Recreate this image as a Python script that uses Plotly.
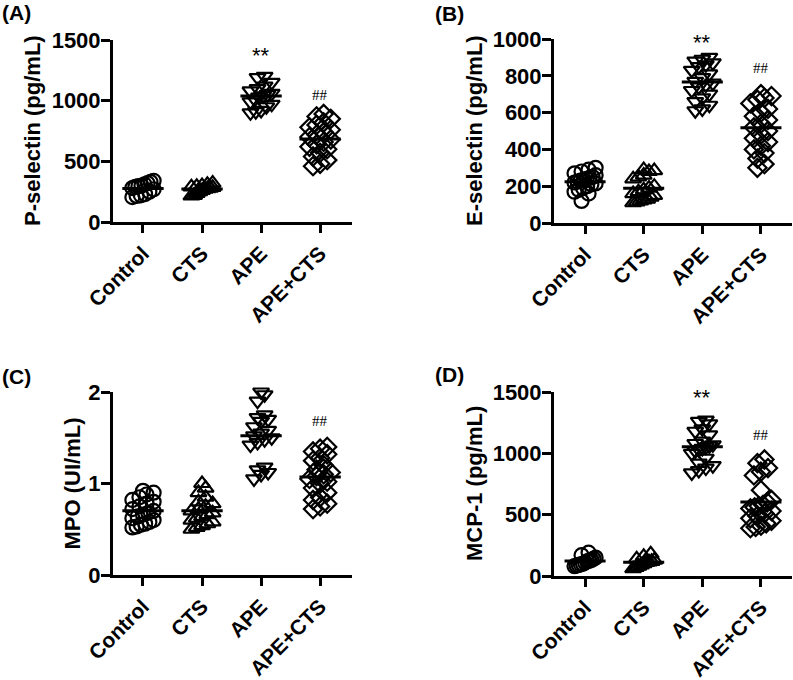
import numpy as np
import plotly.graph_objects as go

categories = ["Control", "CTS", "APE", "APE+CTS"]
symbols = ["circle-open", "triangle-up-open", "triangle-down-open", "diamond-open"]

# Panel A: P-selectin (pg/mL)
a_control = [340, 330, 320, 310, 300, 295, 290, 280, 270, 250, 230, 215, 205, 220]
a_cts = [320, 310, 300, 295, 290, 285, 280, 275, 270, 260, 250, 235, 220, 215]
a_ape = [1200, 1190, 1150, 1120, 1100, 1080, 1060, 1050, 1040, 1030, 1010, 990, 970, 950, 920, 910, 900]
a_apects = [890, 870, 850, 820, 800, 780, 760, 740, 720, 700, 680, 660, 640, 620, 600, 570, 540, 510, 480, 460]

# Panel B: E-selectin (pg/mL)
b_control = [300, 290, 280, 270, 260, 250, 245, 240, 235, 230, 225, 220, 215, 210, 200, 190, 180, 170, 160, 120]
b_cts = [290, 285, 280, 260, 250, 240, 200, 190, 180, 170, 160, 150, 140, 130, 125, 120, 115, 110]
b_ape = [900, 890, 880, 870, 860, 850, 830, 810, 790, 770, 760, 750, 740, 720, 700, 680, 660, 640, 620, 610]
b_apects = [700, 690, 680, 670, 650, 620, 600, 580, 560, 540, 520, 500, 480, 460, 440, 420, 400, 380, 350, 320, 300]

# Panel C: MPO (UI/mL)
c_control = [0.92, 0.9, 0.88, 0.85, 0.82, 0.8, 0.78, 0.75, 0.72, 0.7, 0.68, 0.66, 0.64, 0.62, 0.6, 0.58, 0.56, 0.55, 0.53, 0.52]
c_cts = [1.0, 0.95, 0.9, 0.85, 0.8, 0.78, 0.75, 0.72, 0.7, 0.68, 0.66, 0.64, 0.62, 0.6, 0.58, 0.56, 0.54, 0.52, 0.5]
c_ape = [2.0, 1.97, 1.9, 1.75, 1.72, 1.7, 1.68, 1.62, 1.58, 1.55, 1.52, 1.5, 1.48, 1.45, 1.42, 1.18, 1.15, 1.12, 1.1, 1.05]
c_apects = [1.4, 1.38, 1.35, 1.32, 1.28, 1.25, 1.2, 1.15, 1.12, 1.1, 1.08, 1.05, 1.02, 1.0, 0.95, 0.9, 0.85, 0.82, 0.78, 0.75, 0.72]

# Panel D: MCP-1 (pg/mL)
d_control = [190, 170, 150, 140, 130, 125, 120, 110, 100, 95, 90, 85, 80]
d_cts = [180, 160, 140, 130, 120, 115, 110, 100, 90, 80, 70, 60]
d_ape = [1270, 1260, 1240, 1200, 1180, 1150, 1100, 1080, 1070, 1060, 1050, 1040, 1030, 1020, 1000, 960, 920, 900, 880, 860, 840]
d_apects = [950, 920, 880, 850, 820, 700, 620, 600, 580, 570, 560, 550, 530, 510, 490, 470, 450, 430, 410, 400, 390]

y_titles = ["P-selectin (pg/mL)", "E-selectin (pg/mL)", "MPO (UI/mL)", "MCP-1 (pg/mL)"]
panel_letters = ["(A)", "(B)", "(C)", "(D)"]
y_ticks = [[0, 500, 1000, 1500], [0, 200, 400, 600, 800, 1000], [0, 1, 2], [0, 500, 1000, 1500]]
stars_y = [1376, 983, 2.23, 1459]
hash_y = [1046, 842, 1.68, 1149]

panels = [
    [a_control, a_cts, a_ape, a_apects],
    [b_control, b_cts, b_ape, b_apects],
    [c_control, c_cts, c_ape, c_apects],
    [d_control, d_cts, d_ape, d_apects],
]

W, H = 793, 680
# layout geometry in pixels: (x_left, x_right, y_bottom, y_top)
geo = [(113, 352, 222, 40), (554, 792, 223, 39), (113, 352, 575, 392), (554, 792, 576, 392)]
xranges = [[-0.508, 3.54], [-0.53, 3.53], [-0.508, 3.54], [-0.53, 3.53]]
title_x = [32, 474, 72, 474]


def swarm(vals, px_per_unit, row_px=9.0, step=0.12, maxspread=0.18):
    order = sorted(range(len(vals)), key=lambda i: vals[i])
    rows, cur, start = [], [], None
    for i in order:
        if start is None or (vals[i] - start) * px_per_unit > row_px:
            if cur:
                rows.append(cur)
            cur, start = [i], vals[i]
        else:
            cur.append(i)
    if cur:
        rows.append(cur)
    offs = [0.0] * len(vals)
    for row in rows:
        n = len(row)
        s = step if n < 2 else min(step, 2 * maxspread / (n - 1))
        for k, i in enumerate(row):
            offs[i] = (k - (n - 1) / 2) * s
    return offs


fig = go.Figure()
font_main = "Liberation Sans, Arial, sans-serif"
layout = dict(
    width=W, height=H, margin=dict(l=0, r=0, t=0, b=0, autoexpand=False),
    paper_bgcolor="white", plot_bgcolor="white", showlegend=False,
    font=dict(family=font_main, color="black"),
)
annotations = []

for p in range(4):
    xl, xr, yb, yt = geo[p]
    ymax = y_ticks[p][-1]
    px_per_unit = (yb - yt) / ymax
    sfx = "" if p == 0 else str(p + 1)
    xa, ya = "x" + sfx, "y" + sfx
    for g, vals in enumerate(panels[p]):
        offs = swarm(vals, px_per_unit)
        fig.add_trace(go.Scatter(
            x=[g + o for o in offs], y=vals, mode="markers", xaxis=xa, yaxis=ya,
            cliponaxis=False, hoverinfo="skip",
            marker=dict(symbol=symbols[g], size=14, color="black", line=dict(width=2.2, color="black")),
        ))
        m = float(np.mean(vals))
        fig.add_trace(go.Scatter(
            x=[g - 0.35, g + 0.35], y=[m, m], mode="lines", xaxis=xa, yaxis=ya,
            cliponaxis=False, hoverinfo="skip", line=dict(color="black", width=3),
        ))
    layout["xaxis" + sfx] = dict(
        domain=[xl / W, xr / W], anchor=ya, range=xranges[p], automargin=False,
        tickmode="array", tickvals=[0, 1, 2, 3], ticktext=categories, tickangle=-45,
        showline=True, linewidth=3, linecolor="black", ticks="outside", ticklen=8, tickwidth=3,
        tickcolor="black", showgrid=False, zeroline=False,
        tickfont=dict(size=21, family=font_main, weight="bold"),
    )
    layout["yaxis" + sfx] = dict(
        domain=[1 - yb / H, 1 - yt / H], anchor=xa, range=[0, ymax], automargin=False,
        tickmode="array", tickvals=y_ticks[p],
        showline=True, linewidth=3, linecolor="black", ticks="outside", ticklen=9, tickwidth=3,
        tickcolor="black", showgrid=False, zeroline=False, ticklabelstandoff=-4,
        tickfont=dict(size=22, family=font_main, weight="bold"),
    )
    annotations.append(dict(x=title_x[p] / W, y=1 - (yb + yt) / 2 / H, xref="paper", yref="paper",
                            xanchor="center", yanchor="middle", textangle=-90, text=y_titles[p],
                            showarrow=False, font=dict(size=22, family=font_main, weight="bold", color="black")))
    annotations.append(dict(x=2, y=stars_y[p], xref=xa, yref=ya, text="**", showarrow=False,
                            font=dict(size=22, family=font_main, color="black")))
    annotations.append(dict(x=3, y=hash_y[p], xref=xa, yref=ya, text="##", showarrow=False,
                            font=dict(size=15, family="Liberation Serif, Times New Roman, serif", color="black")))

label_pos = [(0, 12), (433, 13), (0, 376), (433, 374)]
for p, (lx, ly) in enumerate(label_pos):
    annotations.append(dict(x=lx / W, y=1 - ly / H, xref="paper", yref="paper", xanchor="left", yanchor="middle",
                            text=panel_letters[p], showarrow=False,
                            font=dict(size=21, family=font_main, weight="bold", color="black")))

layout["annotations"] = annotations
fig.update_layout(**layout)
fig.write_html("out.html", config={"displayModeBar": False},
               post_script="document.body.style.margin='0px';")
